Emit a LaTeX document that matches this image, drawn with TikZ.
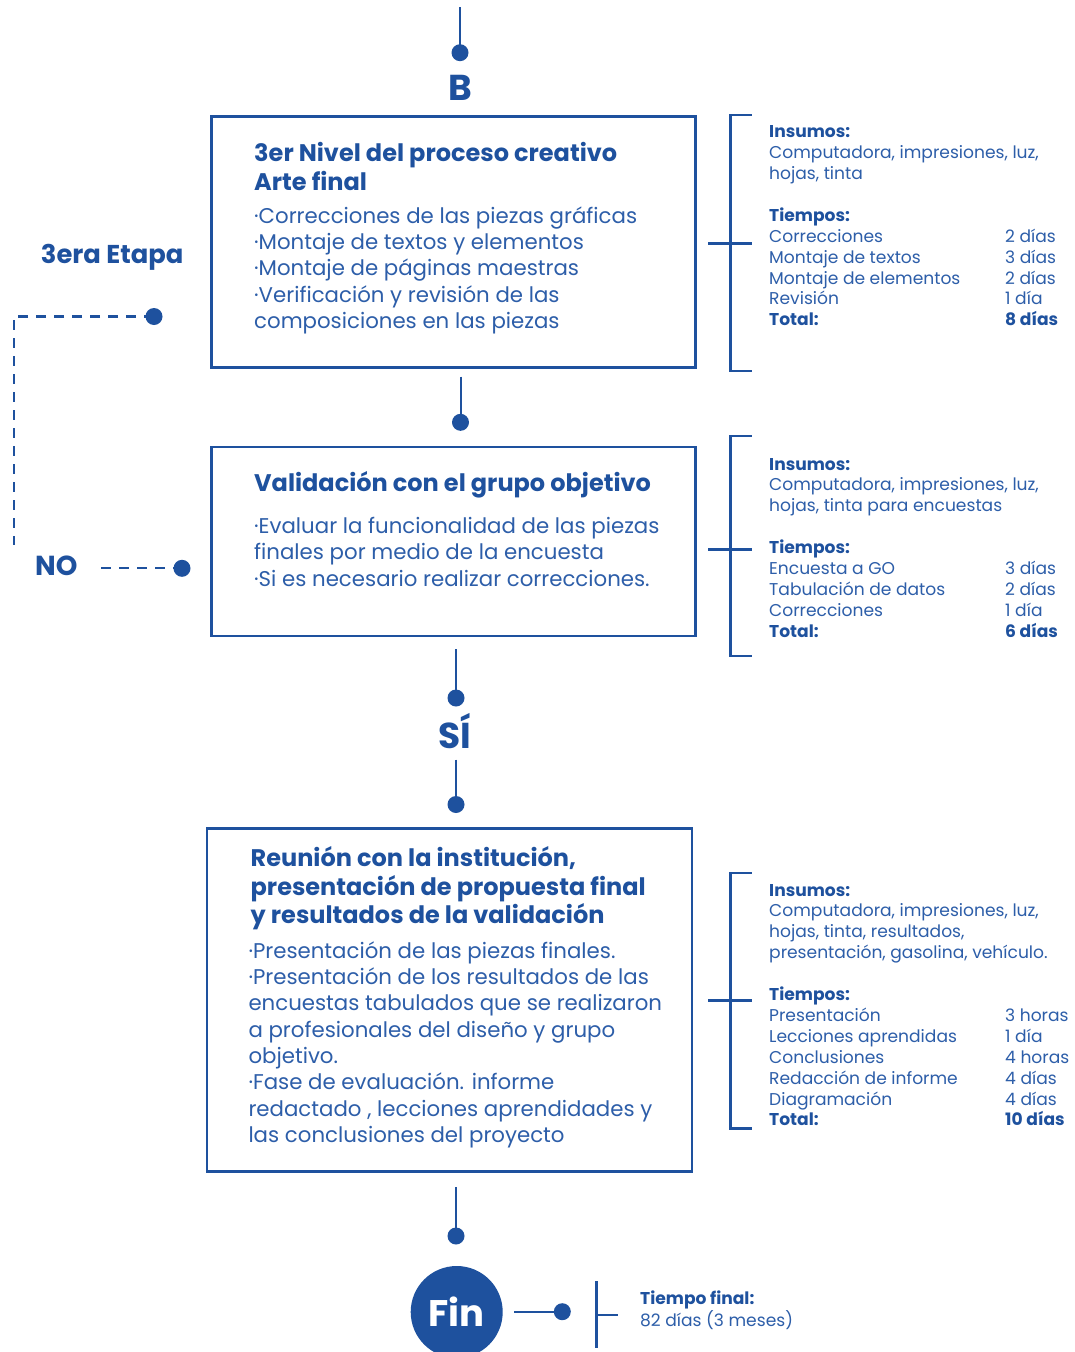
\documentclass[tikz,border=0pt]{standalone}
\usepackage{fontspec}
\setmainfont{Poppins}
\definecolor{azul}{HTML}{1E519E}
\definecolor{azulT}{HTML}{2D5EA9}
\newcommand\myTtl{\fontsize{24}{28.6}\selectfont\bfseries}
\newcommand\myBdy{\fontsize{21.3}{26.3}\selectfont}
\newcommand\mySide{\fontsize{17.1}{20.9}\selectfont}
\tikzset{
  conn/.style={draw=azul, line width=2pt},
  brk/.style={draw=azul, line width=2.5pt},
  dsh/.style={draw=azul, line width=2.3pt, dash pattern=on 10pt off 8pt},
  dotnode/.style={circle, fill=azul, inner sep=0pt, minimum size=17pt},
  boxnode/.style={draw=azul, line width=2.5pt, rectangle, inner sep=0pt, anchor=north west},
  txt/.style={anchor=base west, inner sep=0pt, text=azulT},
  ttl/.style={anchor=base west, inner sep=0pt, text=azul, font=\myTtl},
  big/.style={anchor=base, inner sep=0pt, text=azul, font=\fontsize{36}{40}\selectfont\bfseries},
}
\begin{document}
\begin{tikzpicture}[x=1pt,y=-1pt]
\path[use as bounding box, fill=white] (0,0) rectangle (1075,1352);

% top connector and B
\coordinate (c0) at (460,7);
\node[dotnode] (d0) at (460,52.7) {};
\draw[conn] (c0) -- (d0.center);
\node[big] (B) at (460,100.7) {B};

% box 1
\node[boxnode, minimum width=484pt, minimum height=251pt] (box1) at (210,115) {};
\node[ttl] (t1) at (254,161.7) {\begin{tabular}[t]{@{}l@{}}3er Nivel del proceso creativo\\Arte final\end{tabular}};
\node[txt, font=\myBdy] (b1) at (254,223.3) {\begin{tabular}[t]{@{}l@{}}·Correcciones de las piezas gráficas\\·Montaje de textos y elementos\\·Montaje de páginas maestras\\·Verificación y revisión de las\\composiciones en las piezas\end{tabular}};

% 3era Etapa + dashed loop
\node[anchor=base west, inner sep=0pt, text=azul, font=\fontsize{25.8}{30}\selectfont\bfseries] (etapa) at (40.7,263.3) {3era Etapa};
\node[dotnode] (dE) at (154,316.5) {};
\coordinate (eC) at (13.7,316.5);
\coordinate (eA) at (13.7,545);
\draw[dsh] (dE.center) -- (eC) -- (eA);

% bracket 1
\draw[brk] (751.5,115) -- (730.7,115) -- (730.7,371) -- (751.5,371);
\draw[brk] (708,243.3) -- (751.5,243.3);
\node[txt, font=\mySide] (s1) at (769,137.7) {\begin{tabular}[t]{@{}p{236pt}@{}l@{}}
\multicolumn{2}{@{}l@{}}{\textcolor{azul}{\bfseries Insumos:}}\\
\multicolumn{2}{@{}l@{}}{Computadora, impresiones, luz,}\\
\multicolumn{2}{@{}l@{}}{hojas, tinta}\\
 & \\
\multicolumn{2}{@{}l@{}}{\textcolor{azul}{\bfseries Tiempos:}}\\
Correcciones & 2 días\\
Montaje de textos & 3 días\\
Montaje de elementos & 2 días\\
Revisión & 1 día\\
\textcolor{azul}{\bfseries Total:} & \textcolor{azul}{\bfseries 8 días}
\end{tabular}};

% connector box1 -> box2
\coordinate (c1) at (460.5,376.7);
\node[dotnode] (d1) at (460.5,422.3) {};
\draw[conn] (c1) -- (d1.center);

% box 2
\node[boxnode, minimum width=484pt, minimum height=189pt] (box2) at (210,445.5) {};
\node[ttl] (t2) at (254,491.7) {Validación con el grupo objetivo};
\node[txt, font=\myBdy] (b2) at (254,533.5) {\begin{tabular}[t]{@{}l@{}}·Evaluar la funcionalidad de las piezas\\finales por medio de la encuesta\\·Si es necesario realizar correcciones.\end{tabular}};

% NO
\node[anchor=base west, inner sep=0pt, text=azul, font=\fontsize{27.5}{30}\selectfont\bfseries] (no) at (35,575) {NO};
\coordinate (nS) at (95,568.3);
\node[dotnode] (dN) at (182,568.3) {};
\draw[dsh, dash phase=12pt] (nS) -- (dN.center);

% bracket 2
\draw[brk] (751.5,436) -- (730.7,436) -- (730.7,656) -- (751.5,656);
\draw[brk] (708,549.3) -- (751.5,549.3);
\node[txt, font=\mySide] (s2) at (769,470) {\begin{tabular}[t]{@{}p{236pt}@{}l@{}}
\multicolumn{2}{@{}l@{}}{\textcolor{azul}{\bfseries Insumos:}}\\
\multicolumn{2}{@{}l@{}}{Computadora, impresiones, luz,}\\
\multicolumn{2}{@{}l@{}}{hojas, tinta para encuestas}\\
 & \\
\multicolumn{2}{@{}l@{}}{\textcolor{azul}{\bfseries Tiempos:}}\\
Encuesta a GO & 3 días\\
Tabulación de datos & 2 días\\
Correcciones & 1 día\\
\textcolor{azul}{\bfseries Total:} & \textcolor{azul}{\bfseries 6 días}
\end{tabular}};

% SÍ
\coordinate (c2) at (456,649);
\node[dotnode] (d2) at (456,698) {};
\draw[conn] (c2) -- (d2.center);
\node[big] (si) at (455,748.5) {SÍ};
\coordinate (c3) at (456,759.5);
\node[dotnode] (d3) at (456,804.5) {};
\draw[conn] (c3) -- (d3.center);

% box 3
\node[boxnode, minimum width=485pt, minimum height=343pt] (box3) at (205.5,827.3) {};
\node[ttl] (t3) at (250.5,866.7) {\begin{tabular}[t]{@{}l@{}}Reunión con la institución,\\presentación de propuesta final\\y resultados de la validación\end{tabular}};
\node[txt, font=\myBdy] (b3) at (248.3,958.3) {\begin{tabular}[t]{@{}l@{}}·Presentación de las piezas finales.\\·Presentación de los resultados de las\\encuestas tabulados que se realizaron\\a profesionales del diseño y grupo\\objetivo.\\·Fase de evaluación. informe\\redactado , lecciones aprendidades y\\las conclusiones del proyecto\end{tabular}};

% bracket 3
\draw[brk] (751.5,873) -- (730.7,873) -- (730.7,1128.3) -- (751.5,1128.3);
\draw[brk] (708,1000.7) -- (751.5,1000.7);
\node[txt, font=\mySide] (s3) at (769,896) {\begin{tabular}[t]{@{}p{236pt}@{}l@{}}
\multicolumn{2}{@{}l@{}}{\textcolor{azul}{\bfseries Insumos:}}\\
\multicolumn{2}{@{}l@{}}{Computadora, impresiones, luz,}\\
\multicolumn{2}{@{}l@{}}{hojas, tinta, resultados,}\\
\multicolumn{2}{@{}l@{}}{presentación, gasolina, vehículo.}\\
 & \\
\multicolumn{2}{@{}l@{}}{\textcolor{azul}{\bfseries Tiempos:}}\\
Presentación & 3 horas\\
Lecciones aprendidas & 1 día\\
Conclusiones & 4 horas\\
Redacción de informe & 4 días\\
Diagramación & 4 días\\
\textcolor{azul}{\bfseries Total:} & \textcolor{azul}{\bfseries 10 días}
\end{tabular}};

% Fin
\coordinate (c4) at (456,1187);
\node[dotnode] (d4) at (456,1236) {};
\draw[conn] (c4) -- (d4.center);
\node[circle, fill=azul, inner sep=0pt, minimum size=92pt, text=white, font=\fontsize{37}{40}\selectfont\bfseries] (fin) at (456.7,1312) {Fin};
\coordinate (c5) at (514,1311.7);
\node[dotnode] (d5) at (562.3,1311.7) {};
\draw[conn] (c5) -- (d5.center);
\draw[brk] (596.7,1281) -- (596.7,1348);
\draw[brk] (596.7,1315) -- (617.7,1315);
\node[txt, font=\mySide] (tf) at (640,1304) {\begin{tabular}[t]{@{}l@{}}\textcolor{azul}{\bfseries Tiempo final:}\\82 días (3 meses)\end{tabular}};
\end{tikzpicture}
\end{document}
